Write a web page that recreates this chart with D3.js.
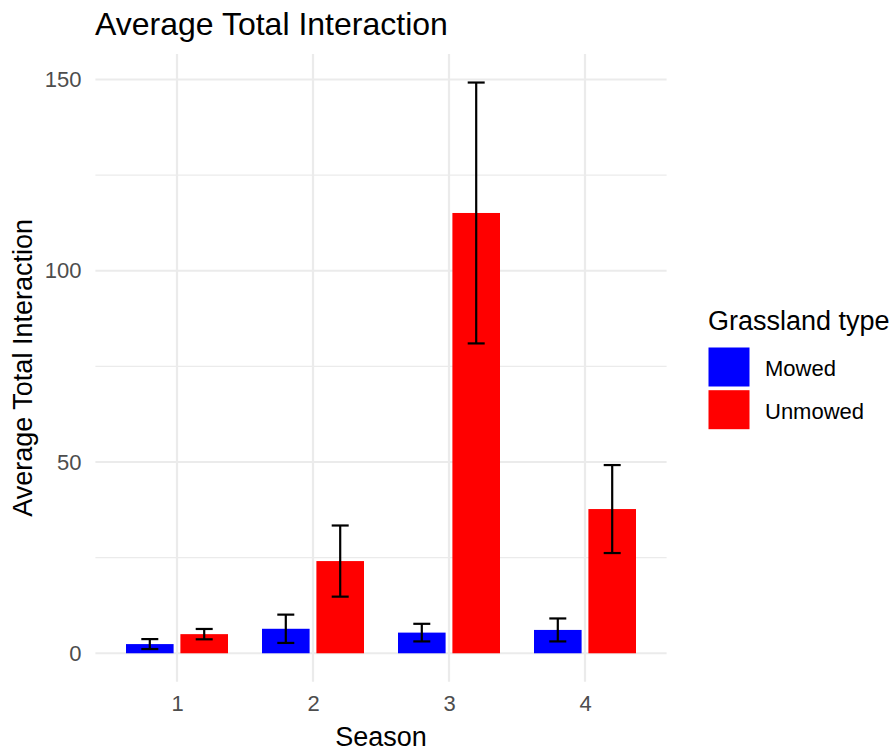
<!DOCTYPE html>
<html>
<head>
<meta charset="utf-8">
<script src="https://cdn.jsdelivr.net/npm/d3@7"></script>
<style>
  html, body { margin: 0; padding: 0; background: #fff; }
  svg { display: block; font-family: "Liberation Sans", Arial, sans-serif; }
</style>
</head>
<body>
<svg id="chart" width="893" height="751"></svg>
<script>
// ---- data ----
const seasons = ["1", "2", "3", "4"];
const groups = ["Mowed", "Unmowed"];
const mowedMean = [2.4, 6.4, 5.4, 6.1];
const mowedSE = [1.3, 3.7, 2.3, 3.0];
const unmowedMean = [5.0, 24.1, 115.1, 37.7];
const unmowedSE = [1.35, 9.3, 34.1, 11.5];
const yTicks = [0, 50, 100, 150];
const yMinorTicks = [25, 75, 125];
const colors = ["#0000FF", "#FF0000"];

const rows = [];
seasons.forEach((s, i) => {
  rows.push({ season: s, group: groups[0], mean: mowedMean[i], se: mowedSE[i] });
  rows.push({ season: s, group: groups[1], mean: unmowedMean[i], se: unmowedSE[i] });
});

// ---- layout ----
const svg = d3.select("#chart");
const panel = { left: 95.4, right: 666.6, top: 54, bottom: 681.8 };

// discrete x with 0.6 expansion each side
const unit = (panel.right - panel.left) / (seasons.length - 1 + 1.2);
const x = d3.scalePoint().domain(seasons)
  .range([panel.left + 0.6 * unit, panel.right - 0.6 * unit]);

const dataMax = d3.max(rows, d => d.mean + d.se);
const ySpan = dataMax - 0;
const y = d3.scaleLinear()
  .domain([0 - 0.05 * ySpan, dataMax + 0.05 * ySpan])
  .range([panel.bottom, panel.top]);

const dodge = d3.scaleBand().domain(groups)
  .range([-0.4 * unit, 0.4 * unit]).paddingInner(0).paddingOuter(0);
const barW = 0.35 * unit;
const capW = 0.125 * unit;
const color = d3.scaleOrdinal().domain(groups).range(colors);

// ---- grid ----
const grid = svg.append("g");
grid.selectAll("line.minor").data(yMinorTicks).join("line")
  .attr("x1", panel.left).attr("x2", panel.right)
  .attr("y1", d => y(d)).attr("y2", d => y(d))
  .attr("stroke", "#EBEBEB").attr("stroke-width", 1.1);
grid.selectAll("line.majory").data(yTicks).join("line")
  .attr("x1", panel.left).attr("x2", panel.right)
  .attr("y1", d => y(d)).attr("y2", d => y(d))
  .attr("stroke", "#EBEBEB").attr("stroke-width", 2.2);
grid.selectAll("line.majorx").data(seasons).join("line")
  .attr("x1", d => x(d)).attr("x2", d => x(d))
  .attr("y1", panel.top).attr("y2", panel.bottom)
  .attr("stroke", "#EBEBEB").attr("stroke-width", 2.2);

// ---- bars ----
svg.append("g").selectAll("rect").data(rows).join("rect")
  .attr("x", d => x(d.season) + dodge(d.group) + dodge.bandwidth() / 2 - barW / 2)
  .attr("width", barW)
  .attr("y", d => y(d.mean))
  .attr("height", d => y(0) - y(d.mean))
  .attr("fill", d => color(d.group));

// ---- error bars ----
const eb = svg.append("g").attr("stroke", "#000").attr("stroke-width", 2.2);
rows.forEach(d => {
  const cx = x(d.season) + dodge(d.group) + dodge.bandwidth() / 2;
  const y1 = y(d.mean + d.se), y0 = y(d.mean - d.se);
  eb.append("line").attr("x1", cx).attr("x2", cx).attr("y1", y1).attr("y2", y0);
  eb.append("line").attr("x1", cx - capW / 2).attr("x2", cx + capW / 2).attr("y1", y1).attr("y2", y1);
  eb.append("line").attr("x1", cx - capW / 2).attr("x2", cx + capW / 2).attr("y1", y0).attr("y2", y0);
});

// ---- axes (text only, theme_minimal) ----
const yAxis = svg.append("g").attr("transform", `translate(${panel.left - 6},0)`)
  .call(d3.axisLeft(y).tickValues(yTicks).tickSize(0).tickPadding(8));
yAxis.select(".domain").remove();
yAxis.selectAll("text").attr("font-size", 22).attr("fill", "#4D4D4D")
  .attr("font-family", "Liberation Sans, Arial, sans-serif");

const xAxis = svg.append("g").attr("transform", `translate(0,${panel.bottom + 6})`)
  .call(d3.axisBottom(x).tickSize(0).tickPadding(8));
xAxis.select(".domain").remove();
xAxis.selectAll("text").attr("font-size", 22).attr("fill", "#4D4D4D")
  .attr("font-family", "Liberation Sans, Arial, sans-serif");

// ---- titles ----
svg.append("text").attr("x", 95).attr("y", 35)
  .attr("font-size", 32).attr("fill", "#000").text("Average Total Interaction");
svg.append("text").attr("x", (panel.left + panel.right) / 2).attr("y", 746)
  .attr("text-anchor", "middle").attr("font-size", 27).attr("fill", "#000").text("Season");
svg.append("text")
  .attr("transform", `translate(32,${(panel.top + panel.bottom) / 2}) rotate(-90)`)
  .attr("text-anchor", "middle").attr("font-size", 27).attr("fill", "#000")
  .text("Average Total Interaction");

// ---- legend ----
const lg = svg.append("g");
lg.append("text").attr("x", 708).attr("y", 330).attr("font-size", 27).attr("fill", "#000")
  .text("Grassland type");
groups.forEach((g, i) => {
  lg.append("rect").attr("x", 708.5).attr("y", 347.5 + i * 42.7)
    .attr("width", 41).attr("height", 39).attr("fill", color(g));
  lg.append("text").attr("x", 765).attr("y", 376 + i * 43)
    .attr("font-size", 22).attr("fill", "#000").text(g);
});
</script>
</body>
</html>
